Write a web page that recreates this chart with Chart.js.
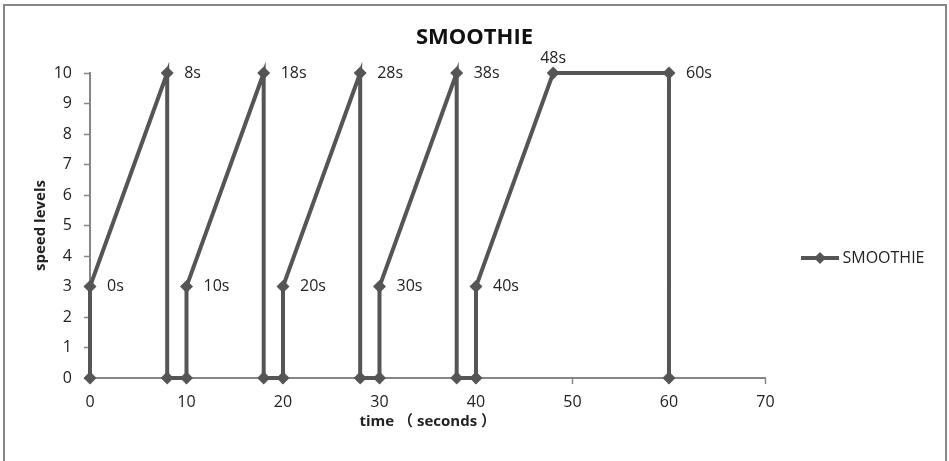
<!DOCTYPE html>
<html>
<head>
<meta charset="utf-8">
<script src="https://cdn.jsdelivr.net/npm/chart.js@4.4.0/dist/chart.umd.min.js"></script>
<style>
  html, body { margin: 0; padding: 0; background: #fff; overflow: hidden; }
  #wrap { position: relative; width: 949px; height: 461px; }
  #frame { position: absolute; left: 3px; top: 4px; width: 940px; height: 480px; border: 2px solid #878787; pointer-events: none; }
  canvas { position: absolute; left: 0; top: 0; }
</style>
</head>
<body>
<div id="wrap">
  <canvas id="chart" width="949" height="461"></canvas>
  <div id="frame"></div>
</div>
<script>
// --- Data ---
const seriesName = 'SMOOTHIE';
const timeSec    = [0, 0, 8, 8, 10, 10, 18, 18, 20, 20, 28, 28, 30, 30, 38, 38, 40, 40, 48, 60, 60];
const speedLevel = [0, 3, 10, 0, 0, 3, 10, 0, 0, 3, 10, 0, 0, 3, 10, 0, 0, 3, 10, 10, 0];
const pointLabels = ['', '0s', '8s', '', '', '10s', '18s', '', '', '20s', '28s', '', '', '30s', '38s', '', '', '40s', '48s', '60s', ''];

// --- Style ---
const FONT = '"Open Sans", "Noto Sans CJK SC", "DejaVu Sans", sans-serif';
const lineColor = '#555555';
const axisColor = '#868686';
const textColor = '#222222';

// legend marker: short line with a diamond on it
function legendMarker() {
  const c = document.createElement('canvas');
  c.width = 49; c.height = 14;
  const g = c.getContext('2d');
  g.strokeStyle = lineColor;
  g.lineWidth = 4;
  g.beginPath(); g.moveTo(11, 7); g.lineTo(49, 7); g.stroke();
  g.fillStyle = lineColor;
  g.beginPath();
  g.moveTo(30, 1); g.lineTo(36, 7); g.lineTo(30, 13); g.lineTo(24, 7);
  g.closePath(); g.fill();
  return c;
}

// labels beside the points ("0s", "8s", ...)
const pointLabelPlugin = {
  id: 'pointLabels',
  afterDatasetsDraw(chart) {
    const meta = chart.getDatasetMeta(0);
    const ctx = chart.ctx;
    ctx.save();
    ctx.font = '16px ' + FONT;
    ctx.fillStyle = textColor;
    ctx.textBaseline = 'middle';
    meta.data.forEach((pt, i) => {
      const text = pointLabels[i];
      if (!text) return;
      const flat = i + 1 < speedLevel.length && speedLevel[i + 1] === speedLevel[i];
      if (flat) {
        ctx.textAlign = 'center';
        ctx.fillText(text, pt.x, pt.y - 15);
      } else {
        ctx.textAlign = 'left';
        ctx.fillText(text, pt.x + 17, pt.y);
      }
    });
    ctx.restore();
  }
};

const points = timeSec.map((t, i) => ({ x: t, y: speedLevel[i] }));

new Chart(document.getElementById('chart').getContext('2d'), {
  type: 'line',
  data: {
    datasets: [{
      label: seriesName,
      data: points,
      borderColor: lineColor,
      backgroundColor: lineColor,
      borderWidth: 4,
      tension: 0,
      pointStyle: 'rectRot',
      pointRadius: 6.5,
      pointBackgroundColor: lineColor,
      pointBorderWidth: 0,
      clip: false
    }]
  },
  options: {
    responsive: false,
    animation: false,
    layout: { padding: { left: 14.5, right: 14.5, top: 0, bottom: 0 } },
    plugins: {
      title: {
        display: true,
        text: 'SMOOTHIE',
        color: '#111',
        font: { family: FONT, size: 22, weight: 'bold' },
        padding: { top: 24.8, bottom: 21.8 }
      },
      legend: {
        position: 'right',
        title: { display: true, text: ' ', font: { size: 12 }, padding: { top: 20, bottom: 20.6 } },
        labels: {
          usePointStyle: true,
          pointStyle: legendMarker(),
          pointStyleWidth: 40,
          padding: 29,
          color: textColor,
          font: { family: FONT, size: 16 }
        }
      },
      tooltip: { enabled: false }
    },
    scales: {
      x: {
        type: 'linear',
        min: 0,
        max: 70,
        afterFit: s => { s.height = 83; },
        ticks: { stepSize: 10, padding: 9, color: textColor, font: { family: FONT, size: 16 } },
        grid: { drawOnChartArea: false, drawTicks: true, tickLength: 6, tickColor: axisColor, tickWidth: 1.5 },
        border: { color: axisColor, width: 2 },
        title: {
          display: true,
          text: 'time （ seconds ）',
          color: textColor,
          font: { family: FONT, size: 15, weight: 'bold' },
          padding: { top: 0, bottom: 30 }
        }
      },
      y: {
        min: 0,
        max: 10,
        afterFit: s => { s.width = 75.5; },
        ticks: { stepSize: 1, padding: 12, color: textColor, font: { family: FONT, size: 16 } },
        grid: { drawOnChartArea: false, drawTicks: true, tickLength: 6, tickColor: axisColor, tickWidth: 1.5 },
        border: { color: axisColor, width: 2 },
        title: {
          display: true,
          text: 'speed levels',
          color: textColor,
          font: { family: FONT, size: 15, weight: 'bold' },
          padding: { top: 17.5, bottom: 0 }
        }
      }
    }
  },
  plugins: [pointLabelPlugin]
});
</script>
</body>
</html>
